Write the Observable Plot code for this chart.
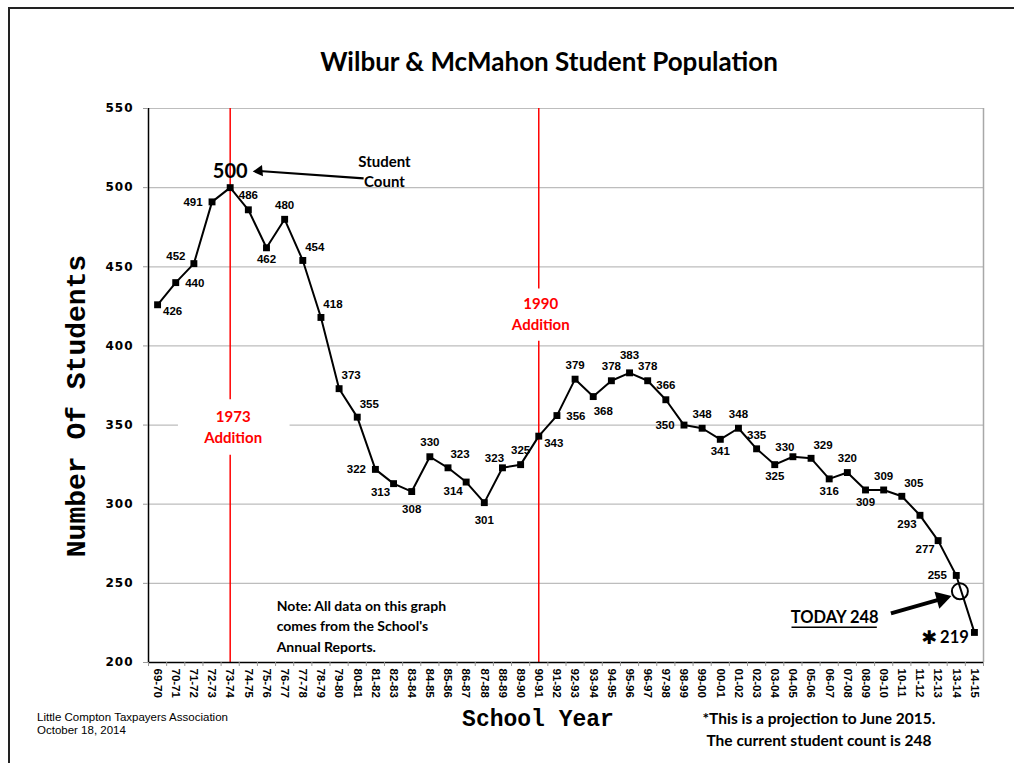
<!DOCTYPE html>
<html>
<head>
<meta charset="utf-8">
<script src="https://cdn.jsdelivr.net/npm/d3@7"></script>
<script src="https://cdn.jsdelivr.net/npm/@observablehq/plot@0.6"></script>
<style>
  html, body { margin: 0; padding: 0; background: #fff; }
  #wrap { position: relative; width: 1014px; height: 763px; overflow: hidden; }
  #frame { position: absolute; left: 8px; top: 7px; width: 1100px; height: 900px;
           border-top: 2px solid #222; border-left: 2px solid #222; }
  #chart { position: absolute; left: 0; top: 0; }
  .t { position: absolute; white-space: nowrap; color: #000; }
  #title { left: 249px; width: 600px; top: 45px; text-align: center;
           font: bold 26px Lato, "Open Sans", sans-serif; }
  #ylab { left: 77px; top: 406px; transform: translate(-50%, -50%) rotate(-90deg);
          font: bold 28px "Liberation Mono", "DejaVu Sans Mono", monospace; }
  #xlab { left: 538px; top: 720px; transform: translate(-50%, -50%);
          font: bold 23px "Liberation Mono", "DejaVu Sans Mono", monospace; }
  #src { left: 37px; top: 711px; font: 11.5px "Liberation Sans", Arial, sans-serif; line-height: 13px; }
  #foot { left: 819px; top: 707px; transform: translateX(-50%); text-align: center;
          font: bold 15.5px Lato, "Open Sans", sans-serif; line-height: 22px; }
  svg [aria-label="y-axis tick label"] { font: bold 12px "DejaVu Sans", sans-serif; letter-spacing: 1px; }
  svg [aria-label="x-axis tick label"] { font: bold 11.5px "Liberation Sans", Arial, sans-serif; }
</style>
</head>
<body>
<div id="wrap">
  <div id="frame"></div>
  <div id="chart"></div>
  <div class="t" id="title">Wilbur &amp; McMahon Student Population</div>
  <div class="t" id="ylab">Number Of Students</div>
  <div class="t" id="xlab">School Year</div>
  <div class="t" id="src">Little Compton Taxpayers Association<br>October 18, 2014</div>
  <div class="t" id="foot">*This is a projection to June 2015.<br>The current student count is 248</div>
</div>
<script>
// ---- data ----
const years = ["69-70","70-71","71-72","72-73","73-74","74-75","75-76","76-77","77-78","78-79",
  "79-80","80-81","81-82","82-83","83-84","84-85","85-86","86-87","87-88","88-89",
  "89-90","90-91","91-92","92-93","93-94","94-95","95-96","96-97","97-98","98-99",
  "99-00","00-01","01-02","02-03","03-04","04-05","05-06","06-07","07-08","08-09",
  "09-10","10-11","11-12","12-13","13-14","14-15"];
const students = [426,440,452,491,500,486,462,480,454,418,
  373,355,322,313,308,330,323,314,301,323,
  325,343,356,379,368,378,383,378,366,350,
  348,341,348,335,325,330,329,316,320,309,
  309,305,293,277,255,219];
// where each value label sits relative to its point
const labelPos = ["se","e","wnw","w","big","n","s","n","ne","ne",
  "ne","ne","w","sw","ss","n","ne","sw","ss","nw",
  "n","se","e","n","sse","n","nn","n","n","w",
  "n","s","n","n","s","nw","ne","s","n","s",
  "n","ne","sw","sw","w","proj"];
const yTicks = [200,250,300,350,400,450,500,550];
const additions = [
  {year: "73-74", label: "1973\nAddition"},
  {year: "90-91", label: "1990\nAddition"}
];

// ---- build ----
const rows = years.map((yr, i) => ({i, year: yr, v: students[i], pos: labelPos[i]}));
const idx = yr => years.indexOf(yr);
const offsets = {
  n: [0,-14], nn: [0,-18], s: [0,12], ss: [0,18], e: [19,1], w: [-19,0],
  ne: [12,-13], nw: [-8,-9], wnw: [-18,-7], se: [15,7], sse: [10,15], sw: [-13,9]
};
const labelFont = {fontSize: 11.5, fontWeight: "bold", fontFamily: "Liberation Sans, Arial, sans-serif", fill: "black"};
const calibri = "Lato, Open Sans, sans-serif";

const a73 = idx(additions[0].year), a90 = idx(additions[1].year);
const redRules = [
  {x: a73, y1: 550, y2: 366}, {x: a73, y1: 331, y2: 200},
  {x: a90, y1: 550, y2: 436}, {x: a90, y1: 403, y2: 200}
];
const last = rows[rows.length - 1];
const peak = rows.find(d => d.pos === "big");

// annotation arrows: shaft + filled head
const countArrow = {x1: 11.35, y1: 505.8, x2: 5.6, y2: 510.5};
const todayArrow = {x1: 40.4, y1: 231, x2: 43.2, y2: 240.2};

const marks = [
  // grid + frame of plot area
  Plot.ruleY(yTicks.filter(v => v > 200), {stroke: "#bdbdbd", strokeWidth: 1.2}),
  Plot.ruleX([45.5], {stroke: "#a8a8a8", strokeWidth: 1.5}),
  // white box behind 1973 label
  Plot.rect([{x1: 1.15, x2: 7.3, y1: 331, y2: 366}], {x1: "x1", x2: "x2", y1: "y1", y2: "y2", fill: "white"}),
  // addition markers
  Plot.ruleX(redRules, {x: "x", y1: "y1", y2: "y2", stroke: "#ff0000", strokeWidth: 1.5}),
  Plot.text([additions[0]], {x: a73, y: 349.5, text: "label", dx: 3, fill: "#ff0000", fontSize: 15, fontWeight: "bold", fontFamily: calibri, lineHeight: 1.4}),
  Plot.text([additions[1]], {x: a90, y: 421, text: "label", dx: 2, fill: "#ff0000", fontSize: 15, fontWeight: "bold", fontFamily: calibri, lineHeight: 1.4}),
  // axes
  Plot.ruleX([-0.5], {stroke: "black", strokeWidth: 1.5}),
  Plot.ruleY([200], {stroke: "black", strokeWidth: 1.5}),
  Plot.axisY({ticks: yTicks, tickSize: 5, tickPadding: 10, stroke: "#999", fill: "black", label: null}),
  Plot.axisX({ticks: d3.range(-0.5, 46, 1), tickSize: 4, tickFormat: () => "", stroke: "#999", label: null}),
  Plot.axisX({ticks: d3.range(years.length), tickFormat: i => years[i], tickRotate: 90, tickSize: 0, tickPadding: 6, fill: "black", label: null}),
  // series
  Plot.line(rows, {x: "i", y: "v", stroke: "black", strokeWidth: 2}),
  Plot.dot(rows, {x: "i", y: "v", symbol: "square", r: 3.9, fill: "black", stroke: "none"}),
  // value labels
  ...Object.entries(offsets).map(([k, [dx, dy]]) =>
    Plot.text(rows.filter(d => d.pos === k), {x: "i", y: "v", text: d => String(d.v), dx, dy, ...labelFont})),
  // peak label + "Student Count" annotation
  Plot.text([peak], {x: "i", y: "v", text: d => String(d.v), dy: -16, fontSize: 20, fontWeight: "bold", fontFamily: calibri}),
  Plot.link([countArrow], {x1: "x1", y1: "y1", x2: "x2", y2: "y2", stroke: "black", strokeWidth: 2.2}),
  Plot.dot([countArrow], {x: "x2", y: "y2", symbol: "triangle", r: 4.2, rotate: -95, fill: "black", stroke: "none"}),
  Plot.text(["Student\nCount"], {x: 12.5, y: 510.8, text: d => d, fontSize: 15, fontWeight: "bold", fontFamily: calibri, lineHeight: 1.35}),
  // projection
  Plot.text([last], {x: "i", y: "v", text: d => String(d.v), dx: -20, dy: 5, fontSize: 16.5, fontWeight: "bold", fontFamily: calibri}),
  Plot.text([last], {x: "i", y: "v", text: () => "✱", dx: -45, dy: 5, fontSize: 19, fontWeight: "bold", fontFamily: "DejaVu Sans, sans-serif"}),
  Plot.dot([{x: 44.2, y: 245}], {x: "x", y: "y", r: 8, stroke: "black", strokeWidth: 2, fill: "none"}),
  Plot.link([todayArrow], {x1: "x1", y1: "y1", x2: "x2", y2: "y2", stroke: "black", strokeWidth: 4}),
  Plot.dot([todayArrow], {x: "x2", y: "y2", symbol: "triangle", r: 6.5, rotate: 74, fill: "black", stroke: "none"}),
  Plot.text(["TODAY 248"], {x: 37.3, y: 228.5, text: d => d, fontSize: 16.5, fontWeight: "bold", fontFamily: calibri}),
  Plot.ruleY([222.2], {x1: 34.95, x2: 39.65, stroke: "black", strokeWidth: 1.5}),
  // note
  Plot.text(["Note: All data on this graph\ncomes from the School's\nAnnual Reports."], {x: 6.56, y: 224, text: d => d, textAnchor: "start", fontSize: 14, fontWeight: "bold", fontFamily: calibri, lineHeight: 1.47})
];

const chart = Plot.plot({
  width: 1014,
  height: 763,
  marginLeft: 148,
  marginRight: 31,
  marginTop: 108,
  marginBottom: 101,
  style: {background: "transparent", overflow: "visible", fontFamily: "Liberation Sans, Arial, sans-serif"},
  x: {type: "linear", domain: [-0.5, 45.5], label: null},
  y: {type: "linear", domain: [200, 550], label: null},
  marks
});
document.getElementById("chart").appendChild(chart);
</script>
</body>
</html>
